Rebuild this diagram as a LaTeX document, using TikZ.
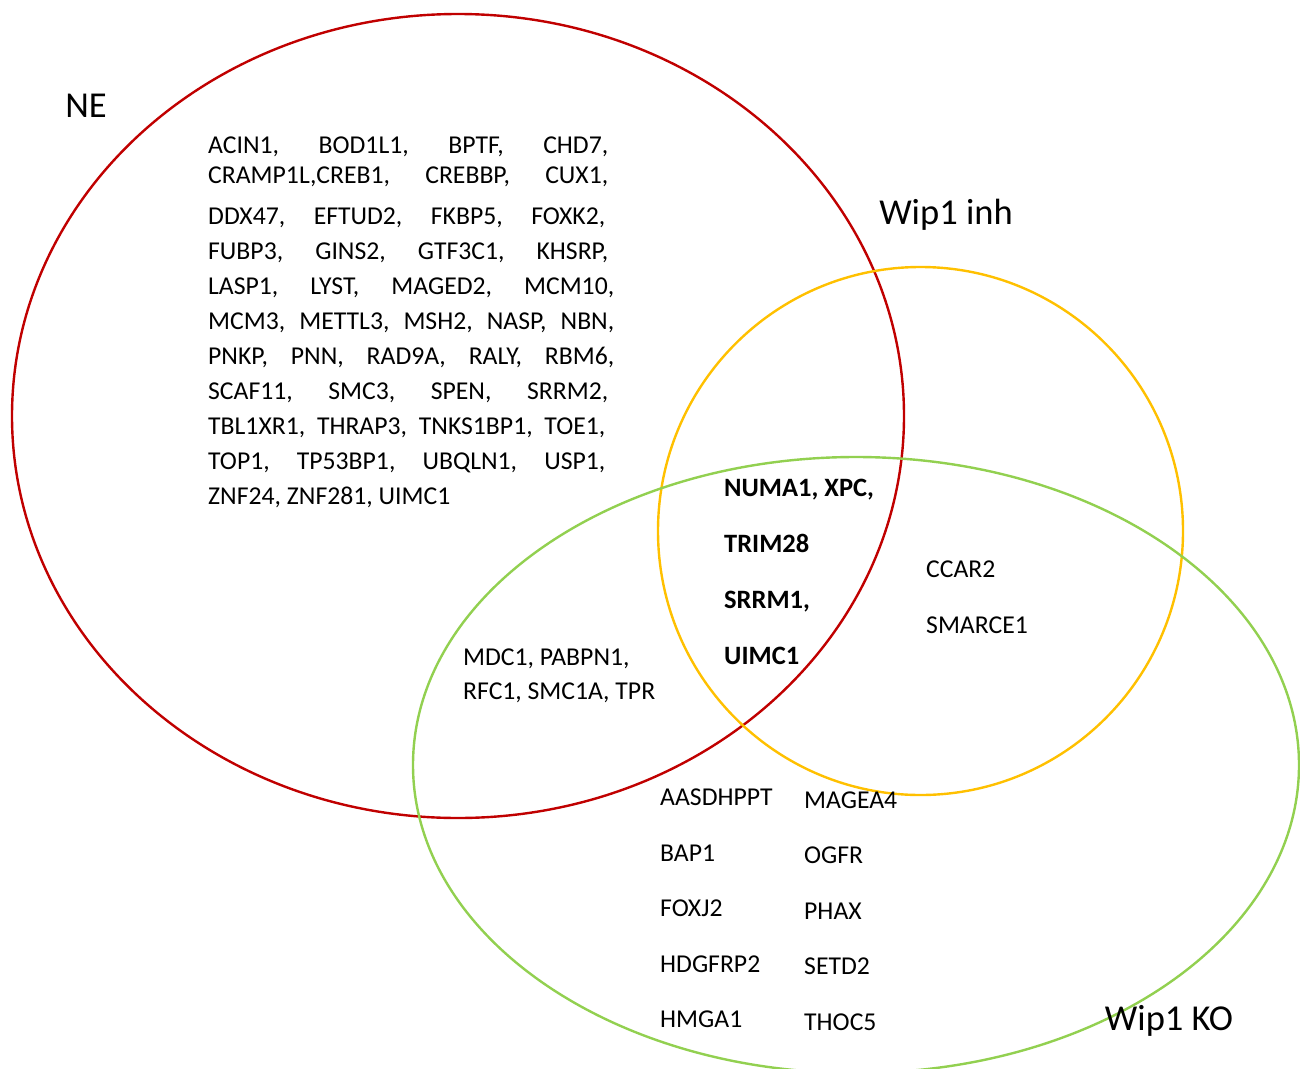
\documentclass[tikz,border=0pt]{standalone}
\usepackage{fontspec}
\setmainfont{Carlito}
\usepackage{tikz}
\usetikzlibrary{shapes.geometric, positioning}

\begin{document}
\begin{tikzpicture}[
  x=1pt, y=-1pt,
  set/.style={ellipse, draw, line width=2.4pt, inner sep=0pt},
  setlabel/.style={anchor=base, font=\fontsize{36.5}{40}\selectfont},
  gene/.style={anchor=base west, inner sep=0pt, font=\fontsize{25.7}{35}\selectfont},
  shared/.style={gene, font=\fontsize{26.5}{35}\selectfont\bfseries}
]
\useasboundingbox (0,0) rectangle (1300,1068);

% the three sets
\node[set, draw={rgb,255:red,192;green,0;blue,0}, minimum width=892pt, minimum height=804pt] (ne) at (458,416) {};
\node[set, draw={rgb,255:red,255;green,192;blue,0}, minimum width=525pt, minimum height=528pt] (inh) at (920.5,531) {};
\node[set, draw={rgb,255:red,146;green,208;blue,80}, minimum width=886pt, minimum height=616pt] (ko) at (856,765) {};

% set names
\node[setlabel] (nelabel) at (86,117) {NE};
\node[setlabel] (inhlabel) at (946,224) {Wip1 inh};
\node[setlabel] (kolabel) at (1169,1030) {Wip1 KO};

% NE only
\node[gene, anchor=north west, align=left] (neonly) at (208,137) {%
  \hbox to 400pt{ACIN1,\hfill BOD1L1,\hfill BPTF,\hfill CHD7,}\\[-5pt]
  \hbox to 400pt{CRAMP1L,CREB1,\hfill CREBBP,\hfill CUX1,}\\[6pt]
  \hbox to 397pt{DDX47,\hfill EFTUD2,\hfill FKBP5,\hfill FOXK2,}\\
  \hbox to 400pt{FUBP3,\hfill GINS2,\hfill GTF3C1,\hfill KHSRP,}\\
  \hbox to 406pt{LASP1,\hfill LYST,\hfill MAGED2,\hfill MCM10,}\\
  \hbox to 406pt{MCM3,\hfill METTL3,\hfill MSH2,\hfill NASP,\hfill NBN,}\\
  \hbox to 406pt{PNKP,\hfill PNN,\hfill RAD9A,\hfill RALY,\hfill RBM6,}\\
  \hbox to 400pt{SCAF11,\hfill SMC3,\hfill SPEN,\hfill SRRM2,}\\
  \hbox to 397pt{TBL1XR1,\hfill THRAP3,\hfill TNKS1BP1,\hfill TOE1,}\\
  \hbox to 397pt{TOP1,\hfill TP53BP1,\hfill UBQLN1,\hfill USP1,}\\
  ZNF24, ZNF281, UIMC1};

% all three sets
\node[shared] (all1) at (724,496) {NUMA1, XPC,};
\node[shared] (all2) at (724,552) {TRIM28};
\node[shared] (all3) at (724,608) {SRRM1,};
\node[shared] (all4) at (724,664) {UIMC1};

% Wip1 inh and Wip1 KO
\node[gene] (inhko1) at (926,577) {CCAR2};
\node[gene] (inhko2) at (926,633) {SMARCE1};

% NE and Wip1 KO
\node[gene] (neko1) at (463,665) {MDC1, PABPN1,};
\node[gene] (neko2) at (463,699) {RFC1, SMC1A, TPR};

% Wip1 KO only
\node[gene] (ko1) at (660,805) {AASDHPPT};
\node[gene] (ko2) at (660,861) {BAP1};
\node[gene] (ko3) at (660,916) {FOXJ2};
\node[gene] (ko4) at (660,972) {HDGFRP2};
\node[gene] (ko5) at (660,1027) {HMGA1};
\node[gene] (ko6) at (804,808) {MAGEA4};
\node[gene] (ko7) at (804,863) {OGFR};
\node[gene] (ko8) at (804,919) {PHAX};
\node[gene] (ko9) at (804,974) {SETD2};
\node[gene] (ko10) at (804,1030) {THOC5};

\end{tikzpicture}
\end{document}
